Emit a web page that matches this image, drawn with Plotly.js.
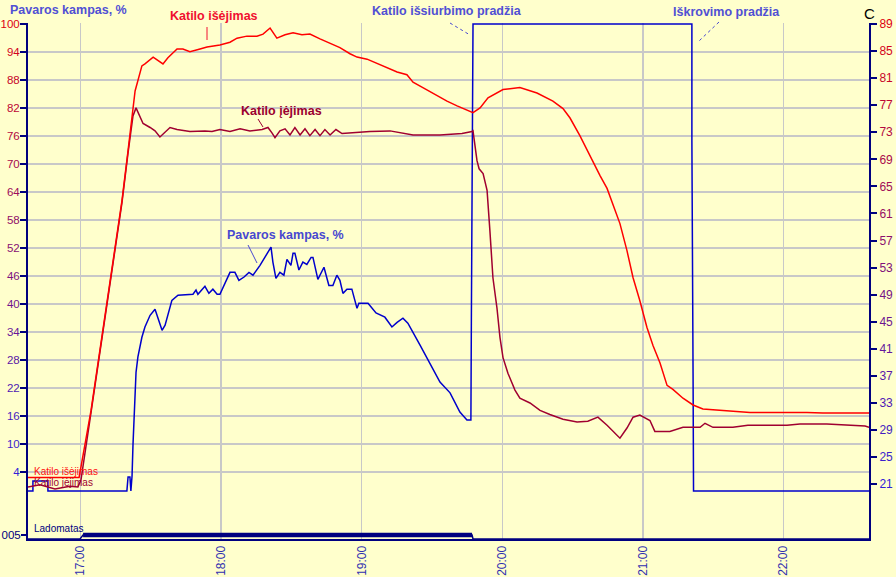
<!DOCTYPE html>
<html>
<head>
<meta charset="utf-8">
<script src="https://cdn.plot.ly/plotly-3.0.1.min.js"></script>
<style>
  html, body { margin: 0; padding: 0; background: #ffffcc; }
  #chart { width: 896px; height: 577px; }
</style>
</head>
<body>
<div id="chart"></div>
<script>
// time in minutes after 16:00
const tOut = [37.6, 59.4, 64.5, 77.7, 80.3, 83.3, 86.2, 87.5, 91.0, 95.2,
              97.3, 101.2, 103.7, 106.7, 111.0, 114.0, 119.5, 123.8, 126.8, 131.0,
              135.3, 137.9, 140.9, 142.6, 143.8, 147.3, 150.7, 154.5, 157.9, 162.2,
              166.5, 170.7, 175.0, 178.0, 182.3, 186.5, 190.8, 195.1, 199.3, 201.9,
              206.1, 212.1, 216.4, 220.7, 224.9, 227.5, 230.5, 233.9, 240.3, 247.5,
              254.8, 261.6, 265.9, 268.9, 273.1, 277.4, 281.7, 284.7, 287.2, 290.2,
              293.2, 295.8, 298.7, 301.7, 304.3, 307.3, 310.3, 312.8, 317.1, 321.4,
              325.6, 335.9, 345.7, 370.0, 376.8, 396.5];
const vOut = [22.0, 22.0, 31.9, 62.9, 70.3, 79.1, 82.8, 83.1, 84.1, 83.1,
              84.0, 85.3, 85.3, 84.9, 85.3, 85.6, 85.9, 86.3, 86.9, 87.2,
              87.2, 87.5, 88.4, 87.4, 86.9, 87.4, 87.7, 87.4, 87.5, 86.8,
              86.2, 85.5, 84.6, 84.1, 83.8, 83.2, 82.5, 81.9, 81.5, 80.4,
              79.6, 78.4, 77.6, 76.9, 76.3, 75.9, 76.6, 78.1, 79.3, 79.6,
              78.8, 77.6, 76.5, 75.1, 72.5, 69.5, 66.6, 64.7, 62.2, 59.5,
              55.5, 51.5, 48.1, 44.2, 41.5, 38.9, 35.6, 35.0, 33.7, 32.7,
              32.1, 31.9, 31.6, 31.6, 31.5, 31.5];

const tIn = [37.6, 42.7, 49.1, 55.5, 58.9, 60.2, 64.5, 77.7, 80.3, 82.4,
             83.7, 85.4, 86.7, 89.7, 91.8, 93.9, 98.2, 101.2, 106.7, 113.1,
             116.1, 119.5, 123.8, 128.1, 132.3, 137.5, 140.0, 141.7, 143.0, 145.1,
             147.3, 149.4, 151.5, 153.7, 155.8, 157.9, 160.1, 162.2, 164.3, 166.5,
             169.0, 171.6, 175.0, 183.5, 192.1, 201.9, 213.4, 222.8, 227.1, 227.5,
             229.2, 230.1, 231.8, 233.5, 234.7, 236.0, 237.7, 239.0, 240.3, 242.4,
             245.4, 247.5, 251.8, 256.1, 260.3, 265.9, 271.9, 276.5, 280.8, 284.7,
             290.2, 293.2, 295.8, 298.7, 303.0, 305.1, 311.5, 317.1, 324.4, 326.5,
             329.9, 338.4, 344.8, 361.5, 367.0, 378.5, 394.8, 396.5];
const vIn = [20.6, 20.9, 20.3, 20.7, 20.6, 21.6, 31.6, 62.6, 70.0, 75.4,
             76.6, 75.4, 74.3, 73.7, 73.2, 72.3, 73.7, 73.4, 73.1, 73.2,
             73.1, 73.4, 73.1, 73.5, 73.2, 73.4, 73.7, 72.9, 72.2, 73.2,
             73.5, 72.6, 73.7, 72.6, 73.5, 72.5, 73.4, 72.5, 73.4, 72.6,
             73.4, 72.8, 72.9, 73.1, 73.2, 72.6, 72.6, 72.8, 73.1, 73.2,
             68.8, 67.6, 66.9, 64.4, 58.5, 51.5, 47.1, 42.7, 39.7, 37.4,
             34.9, 33.7, 33.0, 31.9, 31.3, 30.6, 30.2, 30.3, 30.9, 29.7,
             27.8, 29.3, 30.9, 31.2, 30.4, 28.8, 28.8, 29.4, 29.4, 30.0,
             29.4, 29.4, 29.7, 29.7, 29.9, 29.9, 29.6, 29.4];

const tDrive = [37.6, 39.7, 39.7, 46.1, 46.1, 79.8, 80.3, 81.1, 81.5, 82.0,
                82.4, 82.8, 83.7, 84.5, 86.2, 87.5, 89.7, 91.8, 94.8, 96.1,
                99.0, 101.6, 108.0, 109.3, 110.1, 113.1, 114.8, 116.5, 118.3, 119.5,
                123.8, 125.9, 127.6, 129.8, 131.9, 133.6, 136.6, 141.3, 142.1, 143.4,
                145.1, 146.8, 148.1, 149.8, 150.7, 151.5, 153.2, 154.9, 156.6, 158.4,
                159.2, 161.3, 163.9, 166.0, 167.7, 169.4, 170.7, 172.0, 173.7, 175.8,
                178.0, 178.8, 182.7, 186.1, 189.9, 192.9, 195.1, 197.6, 199.7, 204.9,
                209.1, 213.4, 217.7, 219.8, 221.9, 224.9, 226.6, 226.8, 227.3, 227.5,
                320.9, 320.9, 321.4, 321.6, 396.5];
const vDrive = [0, 0, 2.1, 2.1, 0, 0, 3.0, 3.0, 0, 3.2,
                9.8, 15.8, 25.4, 28.7, 32.9, 35.1, 37.6, 38.9, 34.4, 35.5,
                40.8, 41.9, 42.1, 43.0, 42.1, 43.8, 42.3, 43.2, 42.1, 42.1,
                46.8, 46.8, 45.1, 45.8, 46.8, 46.2, 48.3, 52.2, 49.0, 45.5,
                46.8, 46.2, 49.6, 48.3, 50.9, 50.9, 47.3, 49.0, 48.5, 50.0,
                50.0, 45.3, 47.9, 44.0, 44.0, 46.2, 45.1, 42.3, 43.2, 43.2,
                39.1, 40.2, 40.2, 38.1, 37.2, 35.1, 36.1, 37.0, 35.9, 31.2,
                27.4, 23.3, 21.0, 18.8, 16.9, 15.2, 15.2, 36.6, 78.7, 100,
                100, 75.0, 25.2, 0, 0];

const tLad = [37.6, 59.8, 61.1, 227.1, 227.5, 396.5];
const vLad = [0, 0, 1, 1, 0, 0];

const hourTicks = [60, 120, 180, 240, 300, 360];
const hourLabels = ['17:00', '18:00', '19:00', '20:00', '21:00', '22:00'];
const leftTicks = [4, 10, 16, 22, 28, 34, 40, 46, 52, 58, 64, 70, 76, 82, 88, 94, 100];
const rightTicks = [21, 25, 29, 33, 37, 41, 45, 49, 53, 57, 61, 65, 69, 73, 77, 81, 85, 89];

const base = Date.UTC(2024, 0, 1, 16, 0, 0);
const toMs = m => base + m * 60000;

// red at the top, blue at the bottom
function gradColor(f) {
    const r = Math.round(0x30 + f * (0xdd - 0x30));
    const g = Math.round(0x20 - f * 0x20);
    const b = Math.round(0xd8 - f * (0xd8 - 0x10));
    return `rgb(${r},${g},${b})`;
}
const leftText = leftTicks.map(v =>
    `<span style="color:${gradColor((v - 4) / 96)}">${v}</span>`);
const rightText = rightTicks.map(v =>
    `<span style="color:${gradColor((v - 21) / 68)}">${v}</span>`);

// pixel -> paper helpers for the labels
const px = x => (x - 28) / 841;
const py = y => (539 - y) / 516;

const ladOn = tLad.map((t, i) => vLad[i] === 1 ? t : null).filter(t => t !== null);

const traces = [
    {
        x: tLad.map(toMs), y: vLad, yaxis: 'y3', type: 'scatter', mode: 'lines',
        line: { color: '#000080', width: 1.5 }, hoverinfo: 'skip', name: 'Ladomatas'
    },
    {
        x: ladOn.map(toMs), y: ladOn.map(() => 1), yaxis: 'y3', type: 'scatter', mode: 'lines',
        line: { color: '#000080', width: 4.5 }, hoverinfo: 'skip', name: 'Ladomatas'
    },
    {
        x: tIn.map(toMs), y: vIn, yaxis: 'y2', type: 'scatter', mode: 'lines',
        line: { color: '#a00030', width: 1.5 }, name: 'Katilo įėjimas'
    },
    {
        x: tOut.map(toMs), y: vOut, yaxis: 'y2', type: 'scatter', mode: 'lines',
        line: { color: '#ff0000', width: 1.5 }, name: 'Katilo išėjimas'
    },
    {
        x: tDrive.map(toMs), y: vDrive, type: 'scatter', mode: 'lines',
        line: { color: '#0000cc', width: 1.5 }, name: 'Pavaros kampas, %'
    }
];

const boldFont = (color) => ({ family: 'Liberation Sans, Arial, sans-serif', size: 12.5, color: color, weight: 'bold' });
const smallFont = (color) => ({ family: 'Liberation Sans, Arial, sans-serif', size: 10, color: color });

function label(text, x, y, font, xanchor) {
    return {
        text: text, xref: 'paper', yref: 'paper', x: px(x), y: py(y),
        xanchor: xanchor || 'center', yanchor: 'middle', showarrow: false, font: font
    };
}

const annotations = [
    label('<b>Pavaros kampas, %</b>', 8, 10, boldFont('#5050d4'), 'left'),
    label('<b>Katilo išėjimas</b>', 214, 16, boldFont('#f01030')),
    label('<b>Katilo įėjimas</b>', 281, 111, boldFont('#9a0030')),
    label('<b>Pavaros kampas, %</b>', 285, 235, boldFont('#4848d0')),
    label('<b>Katilo išsiurbimo pradžia</b>', 447, 11, boldFont('#5050d4')),
    label('<b>Iškrovimo pradžia</b>', 726, 12, boldFont('#5050d4')),
    label('C', 869, 14, { family: 'Liberation Sans, Arial, sans-serif', size: 15, color: '#000000' }),
    label('Katilo išėjimas', 32, 471, smallFont('#ff1010'), 'left'),
    label('Katilo įėjimas', 32, 482, smallFont('#a00030'), 'left'),
    label('Ladomatas', 32, 528, smallFont('#000080'), 'left')
];

function leader(x0, y0, x1, y1, color, dash) {
    return {
        type: 'line', xref: 'paper', yref: 'paper',
        x0: px(x0), y0: py(y0), x1: px(x1), y1: py(y1),
        line: { color: color, width: 1, dash: dash || 'solid' }
    };
}

const shapes = [
    leader(207, 27, 207, 40, '#f01030'),
    leader(258, 119, 263, 127, '#9a0030'),
    leader(248, 245, 257, 263, '#4848d0'),
    leader(450, 23, 470, 35, '#4848d0', 'dot'),
    leader(719, 22, 699, 41, '#4848d0', 'dot')
];

const layout = {
    width: 896,
    height: 577,
    margin: { l: 28, r: 27, t: 23, b: 38, pad: 0 },
    paper_bgcolor: '#ffffcc',
    plot_bgcolor: '#ffffcc',
    showlegend: false,
    hovermode: false,
    font: { family: 'Liberation Sans, Arial, sans-serif', size: 12 },
    xaxis: {
        type: 'date',
        range: [toMs(37.6), toMs(396.48)],
        tickvals: hourTicks.map(toMs),
        ticktext: hourLabels,
        tickangle: -90,
        tickfont: { color: '#3030b0', size: 12 },
        showgrid: true, gridcolor: '#c8c8c8', gridwidth: 1.5,
        showline: true, linecolor: '#000080', linewidth: 2,
        ticks: '', zeroline: false, fixedrange: true
    },
    yaxis: {
        range: [-10.3, 100.2],
        tickvals: leftTicks,
        ticktext: leftText,
        tickfont: { size: 11.5 },
        ticklabelstandoff: -2,
        showgrid: true, gridcolor: '#c8c8c8', gridwidth: 1.5,
        showline: true, linecolor: '#000080', linewidth: 2,
        ticks: 'outside', ticklen: 6, tickwidth: 2, tickcolor: '#000080',
        zeroline: false, fixedrange: true
    },
    yaxis2: {
        overlaying: 'y', side: 'right',
        range: [12.9, 89.14],
        tickvals: rightTicks,
        ticktext: rightText,
        showgrid: false,
        showline: true, linecolor: '#000080', linewidth: 2,
        ticks: 'outside', ticklen: 6, tickwidth: 2, tickcolor: '#000080',
        zeroline: false, fixedrange: true
    },
    yaxis3: {
        overlaying: 'y', side: 'left',
        range: [0, 129],
        tickvals: [1], ticktext: ['005'],
        tickfont: { color: '#000080', size: 11.5 },
        ticklabelstandoff: -2,
        showgrid: false, showline: false,
        ticks: 'outside', ticklen: 6, tickwidth: 2, tickcolor: '#000080',
        zeroline: false, fixedrange: true
    },
    annotations: annotations,
    shapes: shapes
};

Plotly.newPlot('chart', traces, layout, { displayModeBar: false, staticPlot: true });
</script>
</body>
</html>
